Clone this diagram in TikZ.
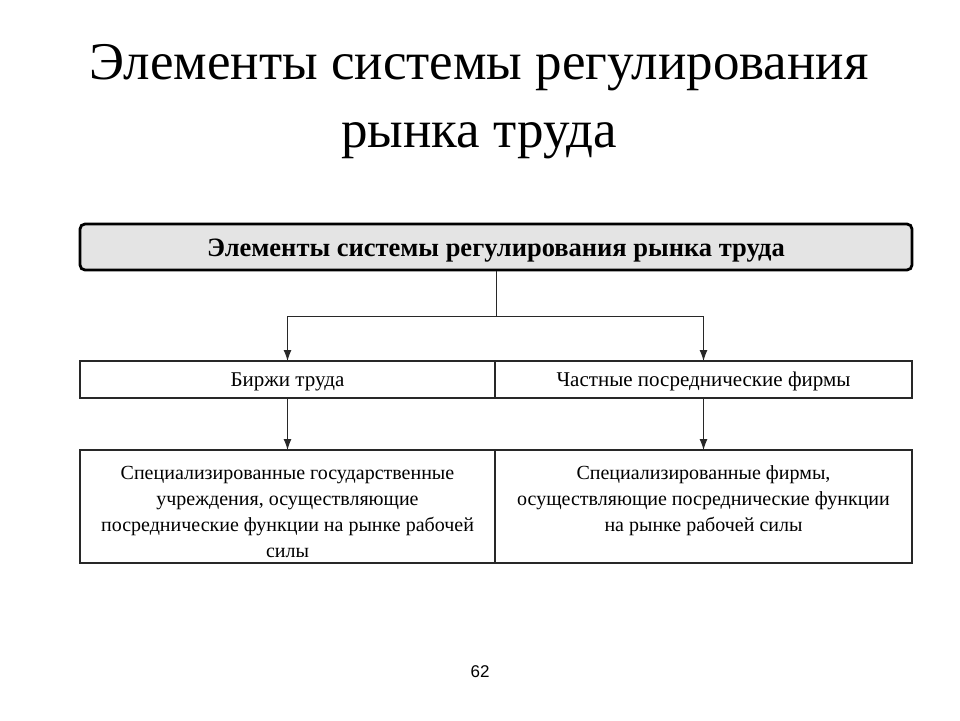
\documentclass[tikz,border=0pt]{standalone}
\usepackage{fontspec}
\setmainfont{Liberation Serif}
\newfontfamily\pagefont{Liberation Sans}
\usepackage{xcolor}
\usetikzlibrary{arrows.meta}
\usetikzlibrary{math}
\definecolor{headgray}{RGB}{228,228,228}
\definecolor{framegray}{RGB}{40,40,40}

\tikzset{
cell/.style={draw=framegray,line width=1.3,minimum height=37,inner sep=0,outer sep=0},
rowtext/.style={font=\fontsize{21}{26}\selectfont,text height=16,text depth=2},
celltext/.style={align=center,inner sep=0,font=\fontsize{20}{26}\selectfont},
link/.style={-{Latex[length=11pt,width=8pt]},line width=1,color=framegray},
}

\begin{document}
\begin{tikzpicture}[x=1pt,y=-1pt]
\tikzmath{
\Lx=80;%left edge
\Rx=912;%right edge
\Mx=495;%middle divider
\wleft=\Mx-\Lx;
\wright=\Rx-\Mx;
}
\useasboundingbox (0,0) rectangle (960,720);

% title
\node[anchor=base,font=\fontsize{53}{66}\selectfont] (title1) at (479,79) {Элементы системы регулирования};
\node[anchor=base,font=\fontsize{53}{66}\selectfont] (title2) at (479,147) {рынка труда};

% head box
\node[draw=black,line width=2.8,rounded corners=5,fill=headgray,minimum width=\Rx-\Lx,minimum height=46,inner sep=0,
      text height=18,text depth=0,font=\fontsize{26.5}{30}\selectfont\bfseries] (head) at ({(\Lx+\Rx)/2},247) {Элементы системы регулирования рынка труда};

% middle row
\node[cell,rowtext,minimum width=\wleft] (exch) at ({\Lx+\wleft/2},379.5) {Биржи труда};
\node[cell,rowtext,minimum width=\wright] (firm) at ({\Mx+\wright/2},379.5) {Частные посреднические фирмы};

% bottom row
\node[cell,minimum width=\wleft,minimum height=113] (state) at ({\Lx+\wleft/2},506.5) {};
\node[cell,minimum width=\wright,minimum height=113] (priv) at ({\Mx+\wright/2},506.5) {};
\node[celltext] (statetext) at ([yshift=-5]state.center)
  {Специализированные государственные\\учреждения, осуществляющие\\посреднические функции на рынке рабочей\\силы};
\node[celltext] (privtext) at ([yshift=-5]priv.center)
  {Специализированные фирмы,\\осуществляющие посреднические функции\\на рынке рабочей силы\\\mbox{}};

% connectors
\path (head.south) ++(0,45) coordinate (split);
\draw[line width=1,color=framegray] (head.south) -- (split);
\draw[link] (split) -| (exch.north);
\draw[link] (split) -| (firm.north);
\draw[link] (exch.south) -- (state.north);
\draw[link] (firm.south) -- (priv.north);

% page number
\node[font=\fontsize{17}{20}\pagefont] (page) at (480,672) {62};
\end{tikzpicture}
\end{document}
